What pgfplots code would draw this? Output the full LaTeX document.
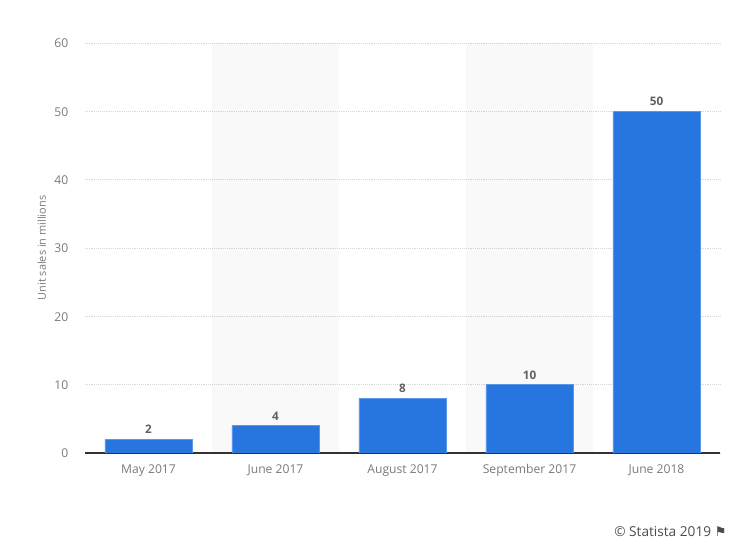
\documentclass[border=0pt]{standalone}
\usepackage{fontspec}
\setmainfont{Open Sans}
\newfontfamily\symfont{DejaVu Sans}
\usepackage{pgfplots}
\pgfplotsset{compat=1.18}
\definecolor{barblue}{HTML}{2775DF}
\definecolor{baredge}{HTML}{5C98EA}
\definecolor{ticktext}{HTML}{7A7A7A}
\definecolor{gridc}{HTML}{D8D8D8}
\begin{document}
\begin{tikzpicture}
% 1 px = 0.75 pt
\path[use as bounding box] (0,0) rectangle (562.5pt,411pt);
\begin{axis}[
  at={(63.75pt,71.25pt)},anchor=south west,
  scale only axis,width=476.25pt,height=307.5pt,
  xmin=-0.5,xmax=4.5,ymin=0,ymax=60,
  xtick={0,1,2,3,4},xticklabels={May 2017,June 2017,August 2017,September 2017,June 2018},
  ytick={0,10,20,30,40,50,60},
  major tick length=0pt,
  axis y line*=left,axis x line*=bottom,
  y axis line style={draw=none},
  x axis line style={draw=black!80,line width=0.9pt,-},
  ymajorgrids,
  grid style={densely dotted,draw=gridc,line width=0.5pt},
  /pgf/number format/assume math mode=true,
  tick label style={font=\fontsize{9.1pt}{10pt}\selectfont,text=ticktext},
  yticklabel style={xshift=-9pt,yshift=-0.4pt},
  xticklabel style={yshift=-5.2pt},
  ylabel near ticks,
  ylabel={Unit sales in millions},
  ylabel style={font=\fontsize{8.2pt}{9pt}\selectfont,text=ticktext,yshift=-0.5pt},
]
\addplot[ybar,bar shift=0pt,bar width=95.25pt,fill=black,fill opacity=0.025,draw=none,forget plot]
  coordinates {(1,60) (3,60)};
\addplot[ybar,bar shift=0pt,bar width=65.5pt,fill=barblue,draw=baredge,line width=0.4pt,
  nodes near coords,
  every node near coord/.append style={font=\fontsize{8.8pt}{10pt}\selectfont\bfseries,text=black!62,yshift=0.6pt},
  point meta=explicit symbolic]
  coordinates {(0,2)[2] (1,4)[4] (2,8)[8] (3,10)[10] (4,50)[50]};
\end{axis}
\node[anchor=west,font=\fontsize{10.25pt}{12pt}\selectfont,text=black!70,inner sep=0pt] at (460.5pt,12pt)
  {© Statista 2019 {\symfont\fontsize{10pt}{10pt}\selectfont ⚑}};
\end{tikzpicture}
\end{document}
